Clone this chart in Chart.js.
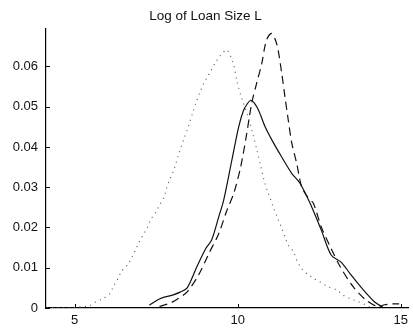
<!DOCTYPE html>
<html>
<head>
<meta charset="utf-8">
<script src="https://cdn.jsdelivr.net/npm/chart.js@4/dist/chart.umd.min.js"></script>
<style>
  html, body { margin: 0; padding: 0; background: #fff; }
  #wrap { width: 413px; height: 329px; }
</style>
</head>
<body>
<div id="wrap"><canvas id="c" width="413" height="329"></canvas></div>
<script>
const chartTitle = "Log of Loan Size L";
const xTickValues = [5, 10, 15];
const yTickValues = [0, 0.01, 0.02, 0.03, 0.04, 0.05, 0.06];

// dotted series
const dottedX = [4.15, 4.4, 4.65, 4.95, 5.17, 5.44, 5.64, 5.86, 6.07, 6.19, 6.32, 6.45, 6.63, 6.76, 6.88, 6.98, 7.1, 7.23, 7.34, 7.49, 7.61, 7.74, 7.81, 7.9, 8.05, 8.2, 8.35, 8.5, 8.62, 8.72, 8.85, 8.96, 9.06, 9.18, 9.32, 9.47, 9.67, 9.88, 9.97, 10.13, 10.3, 10.45, 10.58, 10.7, 10.8, 10.9, 11.0, 11.1, 11.25, 11.35, 11.45, 11.55, 11.71, 11.81, 11.96, 12.11, 12.32, 12.52, 12.77, 13.03, 13.23, 13.43, 13.69, 13.94, 14.1];
const dottedY = [0, 0, 0, 0, 0.0003, 0.0005, 0.0015, 0.0023, 0.0035, 0.0054, 0.0072, 0.0093, 0.0108, 0.0127, 0.0147, 0.0164, 0.0182, 0.02, 0.0221, 0.0238, 0.0257, 0.0275, 0.0296, 0.0316, 0.0345, 0.0385, 0.042, 0.0454, 0.0485, 0.051, 0.0538, 0.0558, 0.0573, 0.059, 0.061, 0.0627, 0.0641, 0.0603, 0.0565, 0.052, 0.048, 0.0437, 0.0395, 0.0355, 0.032, 0.0293, 0.0272, 0.0248, 0.0218, 0.0198, 0.0177, 0.0156, 0.014, 0.0119, 0.0098, 0.0086, 0.0074, 0.0065, 0.0053, 0.0045, 0.0032, 0.0024, 0.0016, 0.0007, 0];

// solid series
const solidX = [7.29, 7.5, 7.68, 8.0, 8.25, 8.45, 8.75, 9.02, 9.2, 9.42, 9.57, 9.82, 10.03, 10.18, 10.3, 10.4, 10.5, 10.64, 10.84, 11.05, 11.35, 11.66, 11.91, 12.22, 12.56, 12.87, 13.17, 13.45, 13.78, 14.2, 14.45];
const solidY = [0.0007, 0.0018, 0.0025, 0.0032, 0.004, 0.005, 0.0103, 0.0148, 0.0169, 0.0227, 0.0268, 0.0367, 0.045, 0.0491, 0.0508, 0.0516, 0.051, 0.0491, 0.045, 0.0417, 0.0375, 0.0334, 0.031, 0.026, 0.0194, 0.0131, 0.0114, 0.0085, 0.0052, 0.0015, 0.0002];

// dashed series
const dashedX = [7.6, 7.95, 8.2, 8.45, 8.8, 9.12, 9.42, 9.67, 9.88, 10.09, 10.27, 10.43, 10.58, 10.74, 10.88, 11.04, 11.2, 11.35, 11.45, 11.55, 11.66, 11.81, 11.96, 12.15, 12.32, 12.56, 12.84, 13.14, 13.54, 13.93, 14.3, 14.5, 14.7, 14.95];
const dashedY = [0.0004, 0.0013, 0.0025, 0.004, 0.0082, 0.0136, 0.0185, 0.0243, 0.0285, 0.035, 0.043, 0.0509, 0.0558, 0.0608, 0.0665, 0.0682, 0.0655, 0.0583, 0.0524, 0.0467, 0.0409, 0.0359, 0.0301, 0.0275, 0.026, 0.0202, 0.0152, 0.0103, 0.0053, 0.002, 0.0003, 0.0008, 0.001, 0.001];

const toPts = (xs, ys) => xs.map((x, i) => ({ x: x, y: ys[i] }));

const FONT = "'Liberation Sans', Arial, Helvetica, sans-serif";

const inwardTicks = {
  id: 'inwardTicks',
  afterDraw(chart) {
    const ctx = chart.ctx;
    const xs = chart.scales.x, ys = chart.scales.y;
    const a = chart.chartArea;
    ctx.save();
    ctx.strokeStyle = '#000';
    ctx.lineWidth = 1;
    ctx.beginPath();
    xTickValues.forEach(v => {
      const px = Math.round(xs.getPixelForValue(v)) + 0.5;
      ctx.moveTo(px, a.bottom);
      ctx.lineTo(px, a.bottom - 4);
    });
    yTickValues.forEach(v => {
      const py = Math.round(ys.getPixelForValue(v)) + 0.5;
      ctx.moveTo(a.left, py);
      ctx.lineTo(a.left + 4, py);
    });
    ctx.stroke();
    ctx.restore();
  }
};

new Chart(document.getElementById('c'), {
  type: 'scatter',
  data: {
    datasets: [
      { data: toPts(dottedX, dottedY), showLine: true, borderColor: '#666', borderWidth: 1.3, borderDash: [0.01, 5.5], borderCapStyle: 'round', pointRadius: 0, tension: 0.3, fill: false },
      { data: toPts(solidX, solidY), showLine: true, borderColor: '#111', borderWidth: 1.2, pointRadius: 0, tension: 0.3, fill: false },
      { data: toPts(dashedX, dashedY), showLine: true, borderColor: '#111', borderWidth: 1.2, borderDash: [8, 5], pointRadius: 0, tension: 0.3, fill: false }
    ]
  },
  options: {
    responsive: false,
    animation: false,
    layout: { padding: { left: 0, right: 2, top: 0, bottom: 0 } },
    plugins: {
      legend: { display: false },
      tooltip: { enabled: false },
      title: {
        display: true,
        text: chartTitle,
        color: '#111',
        font: { family: FONT, size: 13.5, weight: 'normal' },
        padding: { top: 8, bottom: 4 }
      }
    },
    scales: {
      x: {
        type: 'linear',
        min: 4.12,
        max: 15.24,
        afterBuildTicks: s => { s.ticks = xTickValues.map(v => ({ value: v })); },
        afterFit: s => { s.height = 21; },
        grid: { display: true, drawOnChartArea: false, drawTicks: false },
        border: { display: true, color: '#000', width: 1.2 },
        ticks: { color: '#111', font: { family: FONT, size: 13 }, padding: 5, callback: v => String(v) }
      },
      y: {
        type: 'linear',
        min: 0,
        max: 0.0695,
        afterBuildTicks: s => { s.ticks = yTickValues.map(v => ({ value: v })); },
        afterFit: s => { s.width = 46; },
        grid: { display: true, drawOnChartArea: false, drawTicks: false },
        border: { display: true, color: '#000', width: 1.2 },
        ticks: { color: '#111', font: { family: FONT, size: 13 }, padding: 8, callback: v => (v === 0 ? '0' : v.toFixed(2)) }
      }
    }
  },
  plugins: [inwardTicks]
});
</script>
</body>
</html>
